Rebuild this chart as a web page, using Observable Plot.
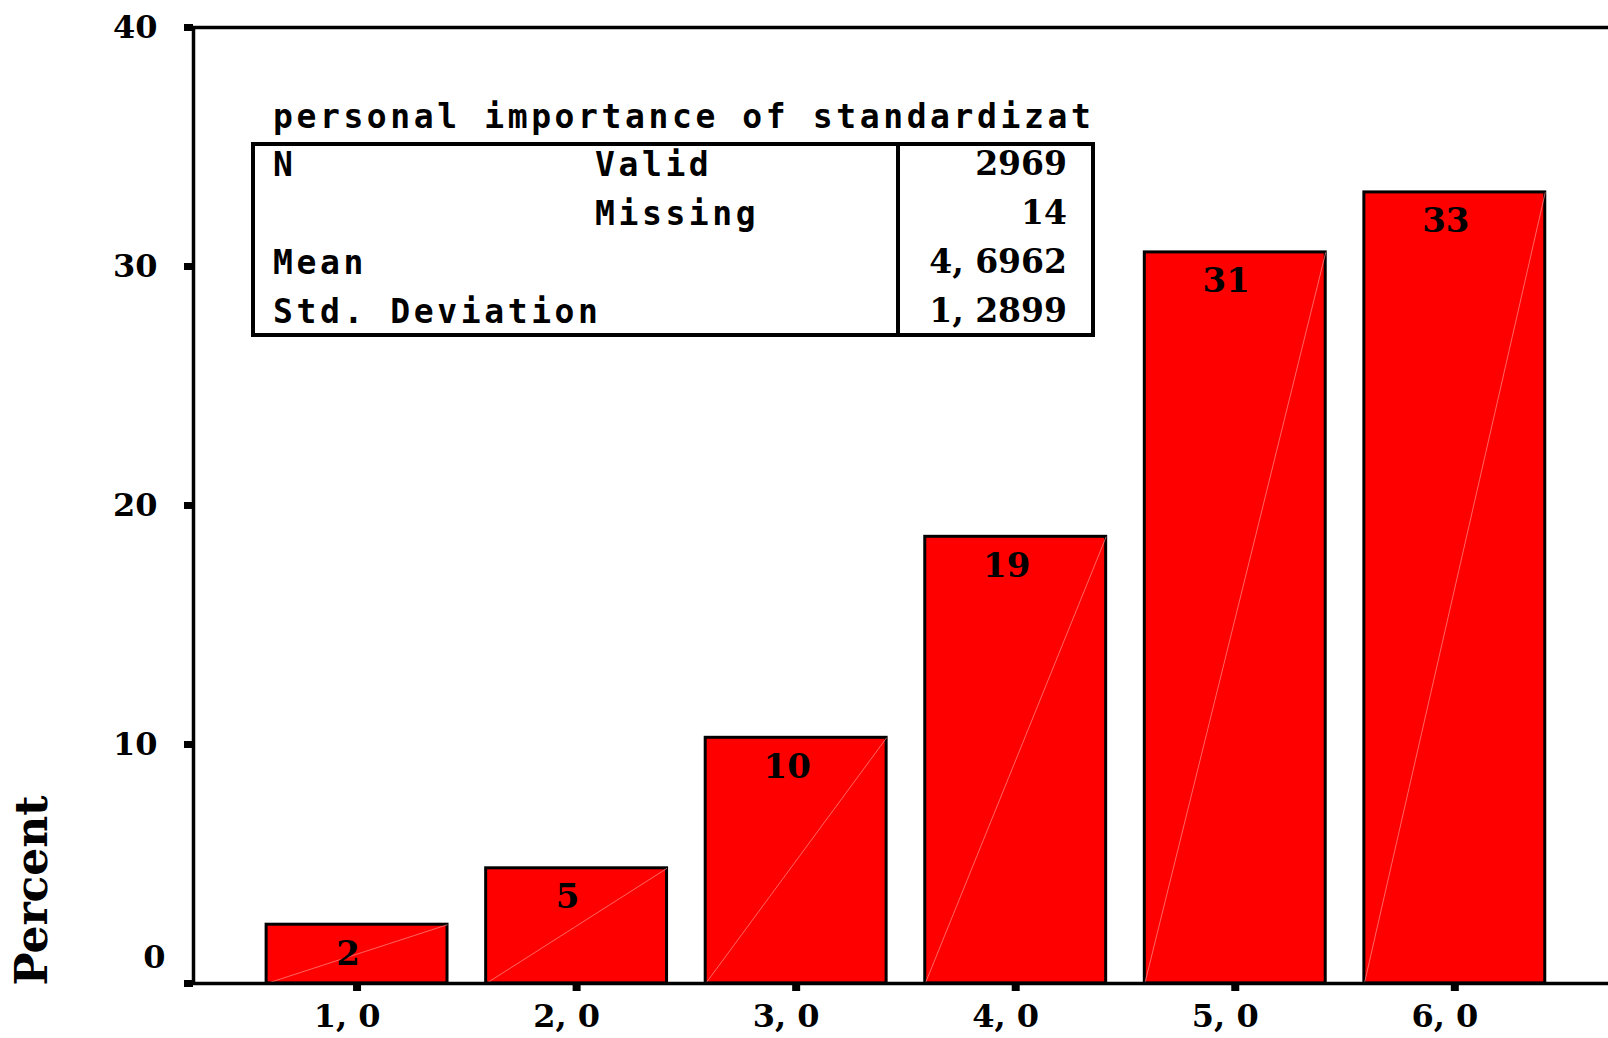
<!DOCTYPE html>
<html>
<head>
<meta charset="utf-8">
<script src="https://cdn.jsdelivr.net/npm/d3@7"></script>
<script src="https://cdn.jsdelivr.net/npm/@observablehq/plot@0.6"></script>
<style>
  html, body { margin: 0; padding: 0; background: #fff; }
  #chart svg { display: block; }
  #chart svg text { font-weight: bold; }
</style>
</head>
<body>
<div id="chart"></div>
<script>
// ---- data ----
const categories = [1, 2, 3, 4, 5, 6];
const tickLabels = ["1, 0", "2, 0", "3, 0", "4, 0", "5, 0", "6, 0"];
const percents = [2.46, 4.82, 10.28, 18.69, 30.59, 33.10];
const yTicks = [0, 10, 20, 30, 40];
const yLabel = "Percent";
const statsTitle = "personal importance of standardizat";
const statCol1 = ["N", "", "Mean", "Std. Deviation"];
const statCol2 = ["Valid", "Missing", "", ""];
const statValues = ["2969", "14", "4, 6962", "1, 2899"];

const data = categories.map((c, i) => ({cat: c, label: tickLabels[i], pct: percents[i]}));
const half = 0.412;
const xDomain = [0.255, 6.70];
const fmt = d3.format(".0f");

const serif = "'DejaVu Serif', 'Liberation Serif', serif";
const mono = "'DejaVu Sans Mono', 'Liberation Mono', monospace";

function statsTable() {
  const g = d3.create("svg:g");
  const left = 253, top = 144, right = 1093, bottom = 335, divider = 898;
  g.append("rect")
    .attr("x", left).attr("y", top)
    .attr("width", right - left).attr("height", bottom - top)
    .attr("fill", "none").attr("stroke", "black").attr("stroke-width", 4);
  g.append("line")
    .attr("x1", divider).attr("x2", divider)
    .attr("y1", top).attr("y2", bottom)
    .attr("stroke", "black").attr("stroke-width", 4);
  const monoText = (s, x, y) => g.append("text")
    .attr("x", x).attr("y", y)
    .attr("text-anchor", "start")
    .attr("font-family", mono).attr("font-size", 33)
    .attr("font-weight", "bold").attr("letter-spacing", "3.6px")
    .attr("fill", "black").text(s);
  monoText(statsTitle, 273, 128);
  const base = [176, 225, 274, 323];
  statCol1.forEach((s, i) => { if (s) monoText(s, 273, base[i]); });
  statCol2.forEach((s, i) => { if (s) monoText(s, 595, base[i]); });
  statValues.forEach((s, i) => {
    g.append("text")
      .attr("x", 1067).attr("y", base[i] - 1)
      .attr("text-anchor", "end")
      .attr("font-family", serif).attr("font-size", 33)
      .attr("font-weight", "bold").attr("fill", "black").text(s);
  });
  return g.node();
}

const chart = Plot.plot({
  width: 1608,
  height: 1038,
  marginLeft: 193,
  marginRight: 0,
  marginTop: 27,
  marginBottom: 55,
  style: {fontFamily: serif, background: "white", color: "black"},
  x: {type: "linear", domain: xDomain},
  y: {domain: [0, 40]},
  marks: [
    Plot.rectY(data, {
      x1: d => d.cat - half, x2: d => d.cat + half,
      y1: 0, y2: "pct",
      fill: "#ff0000", stroke: "black", strokeWidth: 3
    }),
    Plot.link(data, {
      x1: d => d.cat - half, y1: 0,
      x2: d => d.cat + half, y2: "pct",
      stroke: "#ff8f8f", strokeWidth: 0.7
    }),
    Plot.text(data, {
      x: "cat", y: "pct", text: d => fmt(d.pct),
      dx: -9, dy: 29, fontSize: 34, fontWeight: "bold", fill: "black"
    }),
    Plot.ruleY([0, 40], {stroke: "black", strokeWidth: 3.5}),
    Plot.ruleX([xDomain[0]], {stroke: "black", strokeWidth: 3.5}),
    Plot.axisY({
      ticks: yTicks, tickSize: 9, strokeWidth: 7, tickPadding: 27,
      fontSize: 32, fontWeight: "bold", label: null,
      tickFormat: d => d === 0 ? "" : String(d)
    }),
    Plot.text(["0"], {
      frameAnchor: "bottom-left", text: d => d, dx: -28, dy: -16,
      textAnchor: "end", fontSize: 32, fontWeight: "bold", fill: "black"
    }),
    Plot.axisX({
      ticks: categories, tickSize: 8, strokeWidth: 8, text: null, label: null
    }),
    Plot.axisX({
      ticks: categories, tickSize: 0, tickPadding: 21, dx: -10,
      fontSize: 32, fontWeight: "bold", label: null,
      tickFormat: d => tickLabels[categories.indexOf(d)]
    }),
    Plot.text([yLabel], {
      frameAnchor: "bottom-left", text: d => d, dx: -161, dy: 2,
      rotate: -90, textAnchor: "start", lineAnchor: "middle",
      fontSize: 44, fontWeight: "bold", fill: "black"
    }),
    statsTable
  ]
});

document.getElementById("chart").appendChild(chart);
</script>
</body>
</html>
